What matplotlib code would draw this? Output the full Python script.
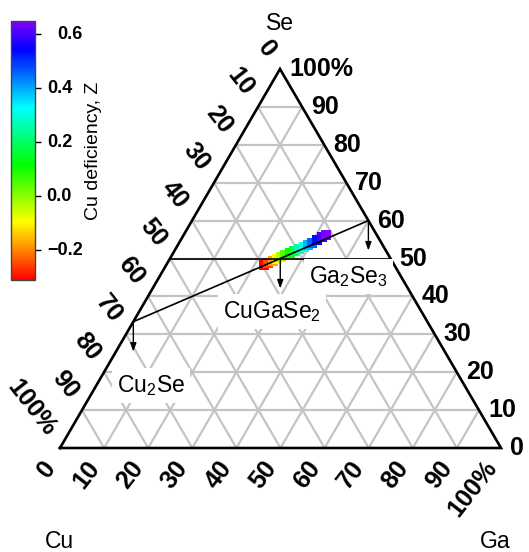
import numpy as np
import matplotlib
matplotlib.use("Agg")
import matplotlib.pyplot as plt
from matplotlib.colors import ListedColormap, Normalize, hsv_to_rgb
from matplotlib.cm import ScalarMappable
from matplotlib.transforms import blended_transform_factory

plt.rcParams["font.family"] = ["Liberation Sans", "DejaVu Sans"]
plt.rcParams["mathtext.fontset"] = "custom"
plt.rcParams["mathtext.rm"] = "Liberation Sans"
plt.rcParams["mathtext.it"] = "Liberation Sans:italic"
plt.rcParams["mathtext.bf"] = "Liberation Sans:bold"

# ---- data -------------------------------------------------------------
# film compositions (at.%) and Cu deficiency Z
cu_pct = [29.5, 28.3, 27.0, 25.8, 24.6, 23.4, 22.0, 20.8, 19.5, 18.2, 16.9, 15.6, 14.2, 12.7, 11.5]
ga_pct = [22.2, 22.9, 23.7, 24.3, 25.0, 25.7, 26.5, 27.2, 28.0, 28.8, 29.5, 30.2, 30.9, 31.6, 32.3]
se_pct = [48.3, 48.8, 49.3, 49.9, 50.4, 50.9, 51.5, 52.0, 52.5, 53.0, 53.6, 54.2, 54.9, 55.7, 56.2]
z_val = [-0.31, -0.25, -0.17, -0.10, -0.03, 0.05, 0.11, 0.18, 0.26, 0.32, 0.39, 0.46, 0.53, 0.60, 0.65]

# reference compounds
comp_names = ["Cu$_2$Se", "CuGaSe$_2$", "Ga$_2$Se$_3$"]
comp_cu = [66.67, 25.0, 0.0]
comp_ga = [0.0, 25.0, 40.0]
comp_se = [33.33, 50.0, 60.0]

# Se = 50 % line (CuSe - GaSe)
se50_cu = [50.0, 0.0]
se50_ga = [0.0, 50.0]
se50_se = [50.0, 50.0]

tick_vals = [0, 10, 20, 30, 40, 50, 60, 70, 80, 90, 100]
tick_text = ["0", "10", "20", "30", "40", "50", "60", "70", "80", "90", "100%"]

cbar_ticks = [-0.2, 0.0, 0.2, 0.4, 0.6]

# ---- layout -----------------------------------------------------------
W, H = 529, 552
P_CU = np.array([60.0, 448.0])
P_GA = np.array([501.0, 448.0])
P_SE = np.array([280.0, 69.0])


def proj(cu, ga, se):
    cu, ga, se = np.asarray(cu, float), np.asarray(ga, float), np.asarray(se, float)
    tot = cu + ga + se
    x = (cu * P_CU[0] + ga * P_GA[0] + se * P_SE[0]) / tot
    y = (cu * P_CU[1] + ga * P_GA[1] + se * P_SE[1]) / tot
    return x, y


fig = plt.figure(figsize=(W / 100, H / 100), dpi=100)
ax = fig.add_axes([0, 0, 1, 1])
ax.set_xlim(0, W)
ax.set_ylim(H, 0)
ax.axis("off")

# grid
grid_kw = dict(color="#c4c4c4", lw=1.6, zorder=1, solid_capstyle="butt")
for v in tick_vals[1:-1]:
    x, y = proj([100 - v, 0], [0, 100 - v], [v, v])
    ax.plot(x, y, **grid_kw)
    x, y = proj([v, v], [0, 100 - v], [100 - v, 0])
    ax.plot(x, y, **grid_kw)
    x, y = proj([100 - v, 0], [v, v], [0, 100 - v])
    ax.plot(x, y, **grid_kw)

# triangle frame
x, y = proj([100, 0, 0, 100], [0, 100, 0, 0], [0, 0, 100, 0])
ax.plot(x, y, color="black", lw=1.9, zorder=3, solid_joinstyle="miter")

# colour map: hue sweep red -> violet
hues = np.linspace(0.0, 0.75, 256)
cmap = ListedColormap(hsv_to_rgb(np.stack([hues, np.ones(256), np.ones(256)], axis=1)))
norm = Normalize(min(z_val), max(z_val))

# samples
x, y = proj(cu_pct, ga_pct, se_pct)
ax.scatter(x, y, c=z_val, cmap=cmap, norm=norm, marker="s", s=52,
           linewidths=0, zorder=4)

# tie lines
x, y = proj([comp_cu[0], comp_cu[2]], [comp_ga[0], comp_ga[2]], [comp_se[0], comp_se[2]])
ax.plot(x, y, color="black", lw=1.2, zorder=5)
x, y = proj(se50_cu, se50_ga, se50_se)
ax.plot(x, y, color="black", lw=1.2, zorder=5)

# compound markers (arrows) and labels
label_offsets = [(18, 64), (-8, 53), (-20, 56)]
for name, c, g, s, (dx, dy) in zip(comp_names, comp_cu, comp_ga, comp_se, label_offsets):
    px, py = proj(c, g, s)
    ax.annotate("", xy=(px, py + 30), xytext=(px, py),
                arrowprops=dict(arrowstyle="-|>,head_length=0.5,head_width=0.18",
                                color="black", lw=1.0, shrinkA=0, shrinkB=0),
                zorder=6)
    ax.text(px + dx, py + dy, name, fontsize=16.5, ha="center", va="center",
            zorder=7, bbox=dict(facecolor="white", edgecolor="none", pad=3.5))

# axis tick labels
tick_font = dict(fontsize=18, fontweight="bold")
TEXT_ANGLE = 52
# Se (right edge, horizontal)
for v, t in zip(tick_vals, tick_text):
    px, py = proj(0, 100 - v, v)
    ax.text(px + 9, py, t, ha="left", va="center", **tick_font)

# Cu (left edge)
d = P_GA - P_SE
d = d / np.hypot(*d)
for v, t in zip(tick_vals, tick_text):
    px, py = proj(v, 0, 100 - v)
    ax.text(px - 17 * d[0], py - 17 * d[1], t, ha="right", va="center",
            rotation=-TEXT_ANGLE, rotation_mode="anchor", **tick_font)

# Ga (bottom edge)
d = P_SE - P_CU
d = d / np.hypot(*d)
for v, t in zip(tick_vals, tick_text):
    px, py = proj(100 - v, v, 0)
    ax.text(px - 18 * d[0], py - 18 * d[1], t, ha="right", va="center",
            rotation=TEXT_ANGLE, rotation_mode="anchor", **tick_font)

# vertex names
ax.text(P_SE[0], P_SE[1] - 45, "Se", fontsize=16.5, ha="center", va="center")
ax.text(P_CU[0] - 1, P_CU[1] + 93, "Cu", fontsize=16.5, ha="center", va="center")
ax.text(P_GA[0] - 6, P_GA[1] + 93, "Ga", fontsize=16.5, ha="center", va="center")

# colour bar
cax = fig.add_axes([11 / W, 1 - 280 / H, 24 / W, 259 / H])
cb = fig.colorbar(ScalarMappable(norm=norm, cmap=cmap), cax=cax)
cb.outline.set_edgecolor("#444444")
cb.outline.set_linewidth(1.0)
cb.set_ticks(cbar_ticks)
cax.set_yticklabels([])
cax.tick_params(axis="y", length=4.5, width=1.0, color="black")
trans = blended_transform_factory(fig.transFigure, cax.transData)
cbar_label_right = [83, 72, 72, 72, 83]
for v, xr in zip(cbar_ticks, cbar_label_right):
    cax.text(xr / W, v, f"{v:.1f}".replace("-", "\u2212"), transform=trans,
             ha="right", va="center", fontsize=13, fontweight="bold")
fig.text(93 / W, 1 - 151 / H, "Cu deficiency, Z", rotation=90,
         ha="center", va="center", fontsize=14)

fig.savefig("out.png", dpi=100)
